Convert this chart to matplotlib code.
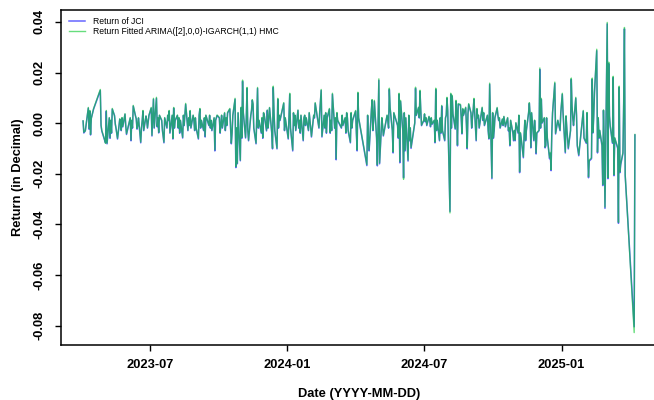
import sys
import numpy as np
import pandas as pd
import matplotlib
matplotlib.use("Agg")
from matplotlib import pyplot as plt
import matplotlib.dates as mdates
from matplotlib.ticker import MultipleLocator, FormatStrFormatter

# daily JCI returns, in basis points, one list per quarter
jci_2023q2 = [8, -39, -35, -30, 59, -24, 47, -47, 20, 55, 129, -10, -31,
              -70, -78, 47, -82, 20, -60, 10, -40, 55, 30, -4, -20, -63, 15, 5, -30, 20, -15, 35, -10, -45,
              20, -70, 10, -20, 67, 30, 16, -24, -10, 20, -78, -20, 10, 47, -30, 27, 10, -20, 30]
jci_2023q3 = [59, -51, 20, 94, -20, 98, -15, 20, -39, 30, 10, -30, -78, 20, -20, 30, 10, 47, -40, 30,
              -63, 59, -20, 10, 30, -20, 20, -40, 10, -59, 30, -10, 74, -30, 20, -10, 47, -20, 30, 10, -30, 20,
              -20, -63, 30, 55, -20, 10, -30, 20, -55, 30, 20, -10, 30, -20, 10, -30, 20, -110, 10, 30]
jci_2023q4 = [20, -40, -10, 30, -20, 39, -30, 20, -10, 40, 55, -20, -82, -40, 30, 94, -176, -20, -161, 40, -149, 60,
              -60, 165, 40, -59, 20, 137, -30, -70, 30, 50, 90, 74, -20, -82, 30, 137, -20, 10, -40, 20, -60, 40,
              30, -31, 50, -20, 10, 60, -40, -102, 141, 40, -30, -102, 94, -20, 30, 10, 78, -30, 20]
jci_2024q1 = [-63, 20, 114, -20, -110, 40, -10, 30, -30, 50, -20, 10, -40, 30, -70, 20, 30, -10, 20, -30, 40, 10,
              -20, -55, 30, 20, 78, -20, 40, 129, -55, 30, -20, 40, -40, 20, 55, -40, 10, -30,
              114, -20, 20, -145, 39, 10, -20, 30, -10, 20, -40, 40, 20, -30, -78, 39, -20, 10]
jci_2024q2 = [47, -40, -110, 118, 20, -168, 30, -60, -110, 47, 90, -30, 10, 86, -60, -169,
              169, -161, 20, -10, -51, 30, 10, -20, 133, 60, -30, -118, 40, -10, -60, 114, -157, 86,
              -30, -216, 40, -110, 20, -150, 30, -70, -20, -100, 0, 137, 30, 60, 20, 125, 50, -10]
jci_2024q3 = [10, 35, 5, 20, -10, 25, 10, -15, 20, -5, 10, -78, 133, -30, 10, -70, 20, -40, 67, -30, -70, 20, 30,
              98, 47, -349, 114, -20, 106, 35, -24, 86, 40, -90, 74, 71, 20, -43, 55, 30, 60, -10, -102, 35, 74,
              40, -20, 20, 50, 94, -70, 55, 20, 30, -20, 60, 10, 40, -10, 20, 30, -30, -63, 153, -220]
jci_2024q4 = [40, -60, -31, 20, 59, 30, 10, 20, -20, 15, -10, 25, 5, -15, 20, -31, -20, -90, 10, -40, -70, -30, -70,
              0, -40, 30, -196, -40, -60, -137, -50, 10, -70, -30, 40, 78, 30, -98, 40, -70, 10, -40, -122, -40,
              -30, 212, -20, 94, 0, 20, -98, -90, 20, -60, -141, -120, -188, -40, 40, 157, -43, 10, -30, 40]
jci_2025q1 = [114, 40, -118, 27, -20, -60, -102, -30, 173, 67, 20, -10, 98, 30, -90, -110, -129, 47, -60,
              -80, 40, -120, -216, -150, -141, 173, -39, 30, 120, 286, -118, 20, -60, -30, -90, -247, 50, -80, -337,
              392, -220, 235, 27, -12, -80, 180, -208, -60, -70, -100, -396, 141, -196, -165, -120, 78, 372, -208]
jci_2025q2 = [-805, -47]

# fitted ARIMA([2],0,0)-IGARCH(1,1) values, basis points
fit_2023q2 = [9, -36, -33, -31, 62, -22, 50, -44, 18, 57, 133, -8, -29,
              -68, -80, 50, -79, 22, -57, 12, -38, 58, 28, -2, -22, -60, 17, 3, -28, 22, -13, 37, -12, -42,
              22, -67, 12, -18, 70, 28, 18, -21, -8, 22, -75, -18, 12, 50, -28, 29, 12, -18, 32]
fit_2023q3 = [62, -48, 22, 98, -18, 102, -12, 22, -36, 32, 12, -28, -75, 22, -18, 32, 12, 50, -37, 32,
              -60, 62, -18, 12, 32, -18, 22, -37, 12, -56, 32, -8, 78, -28, 22, -8, 50, -18, 32, 12, -28, 22,
              -18, -60, 32, 58, -18, 12, -28, 22, -52, 32, 22, -8, 32, -18, 12, -28, 22, -106, 12, 32]
fit_2023q4 = [22, -37, -8, 32, -18, 42, -28, 22, -8, 42, 58, -18, -79, -37, 32, 98, -172, -18, -158, 42, -146, 63,
              -57, 170, 42, -56, 22, 141, -28, -67, 32, 52, 93, 77, -18, -79, 32, 141, -18, 12, -37, 22, -57, 42,
              32, -28, 52, -18, 12, 62, -37, -99, 146, 42, -28, -99, 98, -18, 32, 12, 81, -28, 22]
fit_2024q1 = [-60, 22, 118, -18, -106, 42, -8, 32, -28, 52, -18, 12, -37, 32, -67, 22, 32, -8, 22, -28, 42, 12,
              -18, -52, 32, 22, 81, -18, 42, 133, -52, 32, -18, 42, -37, 22, 58, -37, 12, -28,
              118, -18, 22, -141, 42, 12, -18, 32, -8, 22, -37, 42, 22, -28, -75, 42, -18, 12]
fit_2024q2 = [50, -37, -106, 122, 22, -164, 32, -57, -106, 50, 93, -28, 12, 90, -57, -165,
              175, -157, 22, -8, -48, 32, 12, -18, 138, 63, -28, -114, 42, -8, -57, 118, -152, 90,
              -28, -222, 42, -106, 22, -146, 32, -67, -18, -96, 2, 142, 32, 63, 22, 130, 52, -8]
fit_2024q3 = [12, 37, 7, 22, -8, 27, 12, -12, 22, -3, 12, -75, 138, -28, 12, -67, 22, -37, 70, -28, -67, 22, 32,
              102, 50, -355, 118, -18, 110, 37, -21, 90, 42, -86, 77, 74, 22, -40, 58, 32, 63, -8, -98, 37, 77,
              42, -18, 22, 52, 98, -67, 58, 22, 32, -18, 63, 12, 42, -8, 22, 32, -28, -60, 158, -216]
fit_2024q4 = [42, -57, -28, 22, 62, 32, 12, 22, -18, 17, -8, 27, 7, -13, 22, -28, -18, -86, 12, -37, -67, -28, -67,
              2, -37, 32, -192, -37, -57, -133, -47, 12, -67, -28, 42, 81, 32, -95, 42, -67, 12, -37, -118, -37,
              -28, 218, -18, 98, 2, 22, -95, -86, 22, -57, -137, -116, -184, -37, 42, 162, -40, 12, -28, 42]
fit_2025q1 = [118, 42, -114, 29, -18, -57, -98, -28, 178, 70, 22, -8, 102, 32, -86, -106, -125, 50, -57,
              -77, 42, -116, -212, -146, -137, 178, -36, 32, 124, 292, -114, 22, -57, -28, -86, -243, 52, -77, -332,
              398, -216, 241, 29, -10, -77, 185, -204, -57, -67, -96, -392, 146, -192, -161, -116, 81, 378, -204]
fit_2025q2 = [-828, -45]

quarters = ["2023Q2", "2023Q3", "2023Q4", "2024Q1", "2024Q2", "2024Q3", "2024Q4", "2025Q1", "2025Q2"]
jci_parts = [jci_2023q2, jci_2023q3, jci_2023q4, jci_2024q1, jci_2024q2, jci_2024q3, jci_2024q4, jci_2025q1, jci_2025q2]
fit_parts = [fit_2023q2, fit_2023q3, fit_2023q4, fit_2024q1, fit_2024q2, fit_2024q3, fit_2024q4, fit_2025q1, fit_2025q2]

# IDX market holidays in the window
holidays = ["2023-04-07", "2023-04-18", "2023-04-19", "2023-04-20", "2023-04-21", "2023-04-24", "2023-04-25",
            "2023-05-01", "2023-05-18", "2023-06-01", "2023-06-02", "2023-06-29", "2023-07-19", "2023-08-17",
            "2023-09-28", "2023-12-25", "2023-12-26",
            "2024-01-01", "2024-02-08", "2024-02-09", "2024-02-14", "2024-03-11", "2024-03-12", "2024-03-29",
            "2024-04-08", "2024-04-09", "2024-04-10", "2024-04-11", "2024-04-12", "2024-04-15", "2024-05-01",
            "2024-05-09", "2024-05-10", "2024-05-23", "2024-05-24", "2024-06-17", "2024-06-18", "2024-09-16",
            "2024-12-25", "2024-12-26",
            "2025-01-01", "2025-01-27", "2025-01-28", "2025-01-29", "2025-03-28", "2025-03-31", "2025-04-01",
            "2025-04-02", "2025-04-03", "2025-04-04", "2025-04-07"]

days = pd.bdate_range("2023-04-03", "2025-04-09")
days = days[~days.isin(pd.to_datetime(holidays))]
qlabels = days.to_period("Q").astype(str)

dates, jci, fit = [], [], []
for q, a, b in zip(quarters, jci_parts, fit_parts):
    qd = days[qlabels == q]
    n = min(len(qd), len(a), len(b))
    if not (len(qd) == len(a) == len(b)):
        print(q, len(qd), len(a), len(b), file=sys.stderr)
    dates.extend(qd[:n])
    jci.extend(a[:n])
    fit.extend(b[:n])
dates = pd.DatetimeIndex(dates)
jci = np.array(jci) / 10000
fit = np.array(fit) / 10000

plt.rcParams["font.family"] = ["Liberation Sans", "DejaVu Sans"]
plt.rcParams["font.weight"] = "bold"

fig = plt.figure(figsize=(6.54, 4.0), dpi=100)
ax = fig.add_axes([61 / 654, 55 / 400, 596 / 654, 335 / 400])

ax.plot(dates, jci, color=(0, 0, 1, 0.6), lw=1.1, label="Return of JCI")
ax.plot(dates, fit, color=(0, 0.78, 0.15, 0.6), lw=1.0,
        label="Return Fitted ARIMA([2],0,0)-IGARCH(1,1) HMC")

# R-style 4% padding
span = dates[-1] - dates[0]
ax.set_xlim(dates[0] - 0.04 * span, dates[-1] + 0.04 * span)
lo = min(jci.min(), fit.min())
hi = max(jci.max(), fit.max())
pad = 0.04 * (hi - lo)
ax.set_ylim(lo - pad, hi + pad)

ax.xaxis.set_major_locator(mdates.MonthLocator(bymonth=[1, 7]))
ax.xaxis.set_major_formatter(mdates.DateFormatter("%Y-%m"))
ax.yaxis.set_major_locator(MultipleLocator(0.02))
ax.yaxis.set_major_formatter(FormatStrFormatter("%.2f"))

ax.tick_params(axis="both", length=4, width=1.0, labelsize=9.3)
ax.tick_params(axis="x", pad=6)
ax.tick_params(axis="y", pad=7)
for lab in ax.get_yticklabels():
    lab.set_rotation(90)
    lab.set_va("center")
for lab in ax.get_xticklabels() + ax.get_yticklabels():
    lab.set_fontweight("bold")

for s in ["left", "top", "bottom"]:
    ax.spines[s].set_linewidth(1.1)
ax.spines["right"].set_visible(False)

ax.set_xlabel("Date (YYYY-MM-DD)", fontsize=9.3, fontweight="bold", labelpad=12)
ax.set_ylabel("Return (in Decimal)", fontsize=9.3, fontweight="bold", labelpad=7)

leg = ax.legend(loc="upper left", bbox_to_anchor=(8 / 596, 1 - 7 / 335), frameon=False,
                fontsize=6.2, borderaxespad=0, borderpad=0, handlelength=1.85,
                handletextpad=0.95, labelspacing=0.15)
for t in leg.get_texts():
    t.set_fontweight("normal")

fig.savefig("out.png", dpi=100)
